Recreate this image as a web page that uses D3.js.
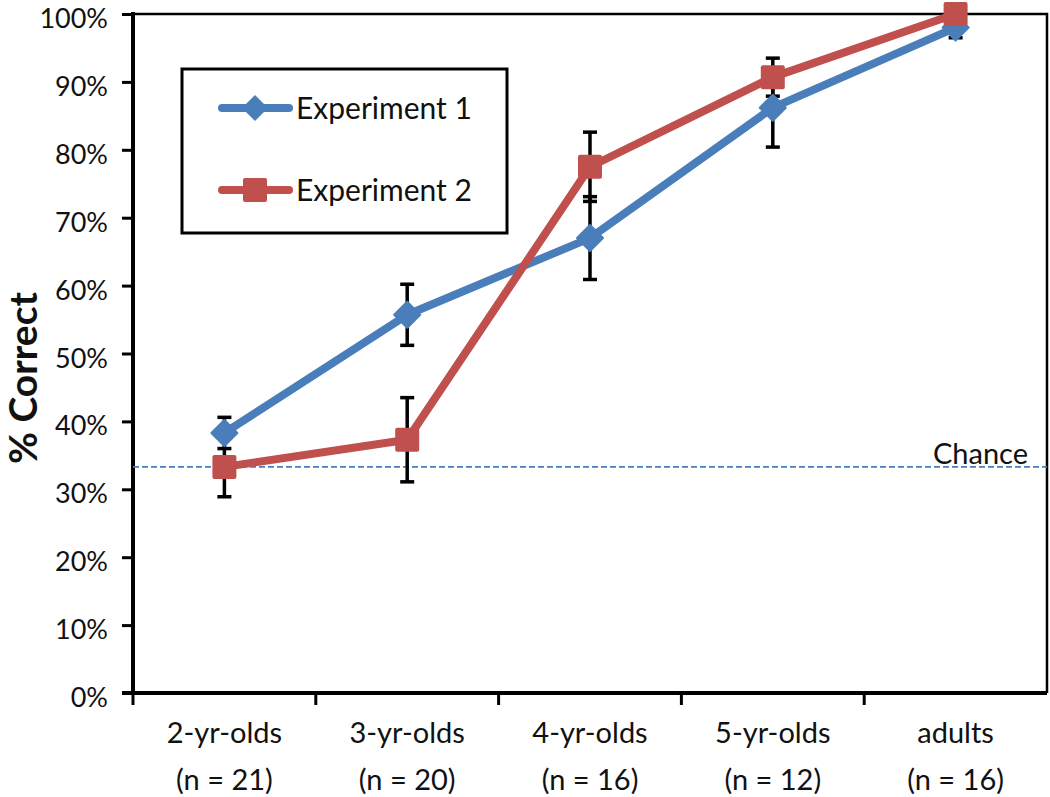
<!DOCTYPE html>
<html><head><meta charset="utf-8">
<script src="https://cdn.jsdelivr.net/npm/d3@7"></script>
<style>body{margin:0;background:#fff}svg{display:block}text{font-family:Lato,"Open Sans",sans-serif;fill:#111}</style>
</head><body><svg id="c" width="1050" height="797"></svg>
<script>
const categories = ["2-yr-olds","3-yr-olds","4-yr-olds","5-yr-olds","adults"];
const nLabels = ["(n = 21)","(n = 20)","(n = 16)","(n = 12)","(n = 16)"];
const exp1 = [38.3, 55.7, 67.0, 86.2, 98.0];
const exp1Err = [2.3, 4.5, 6.1, 5.8, 1.5];
const exp2 = [33.3, 37.3, 77.5, 90.7, 100.0];
const exp2Err = [4.4, 6.2, 5.1, 2.8, 0];
const yTicks = [0,10,20,30,40,50,60,70,80,90,100];
const chance = 33.3;
const seriesNames = ["Experiment 1","Experiment 2"];

const svg = d3.select("#c");
const L=133, R=1047, T=14, B=693;
const x = d3.scaleBand().domain(categories).range([L,R]);
const y = d3.scaleLinear().domain([0,100]).range([B,T]);
const cx = d => x(d)+x.bandwidth()/2;

// frame top/right
svg.append("path").attr("d",`M${L},${T}H${R}V${B}`).attr("fill","none").attr("stroke","#000").attr("stroke-width",2.5);

// y axis
const ya = svg.append("g").attr("transform",`translate(${L},0)`)
  .call(d3.axisLeft(y).tickValues(yTicks).tickFormat(d=>d+"%").tickSize(11).tickPadding(14));
ya.select(".domain").attr("stroke-width",4).attr("d",`M0,${T-2}V${B+2}`);
ya.selectAll(".tick line").attr("stroke-width",3);
ya.selectAll("text").style("font-size","27px").attr("fill","#111").attr("dy","0.5em");

// x axis
const xa = svg.append("g").attr("transform",`translate(0,${B})`)
  .call(d3.axisBottom(x).tickSize(0).tickFormat(""));
xa.select(".domain").attr("stroke-width",4).attr("d",`M${L-11},0H${R}`);
const bounds = categories.map(c=>x(c)).concat([R]);
xa.selectAll(".bt").data(bounds).join("line").attr("class","bt")
  .attr("x1",d=>d).attr("x2",d=>d).attr("y1",0).attr("y2",d=>d===R?0:12)
  .attr("stroke","#000").attr("stroke-width",3);
svg.selectAll(".xl1").data(categories).join("text").attr("class","xl1")
  .attr("x",d=>cx(d)).attr("y",743).attr("text-anchor","middle").style("font-size","29px").text(d=>d);
svg.selectAll(".xl2").data(nLabels).join("text").attr("class","xl2")
  .attr("x",(d,i)=>cx(categories[i])).attr("y",790).attr("text-anchor","middle").style("font-size","29px").text(d=>d);

// y title
svg.append("text").attr("transform",`translate(37,378) rotate(-90)`).attr("text-anchor","middle")
  .style("font-size","39px").style("font-weight","bold").text("% Correct");

// chance line
svg.append("line").attr("x1",L).attr("x2",R).attr("y1",y(chance)).attr("y2",y(chance))
  .attr("stroke","#4a7ebb").attr("stroke-width",1.6).attr("stroke-dasharray","6,3");
svg.append("text").attr("x",1028).attr("y",464).attr("text-anchor","end").style("font-size","29px").text("Chance");

const blue="#4a7ebb", red="#c0504d";
const line = d3.line().x((d,i)=>cx(categories[i])).y(d=>y(d));

function errBars(vals, errs){
  const g = svg.append("g").attr("stroke","#000").attr("stroke-width",3.5);
  vals.forEach((v,i)=>{
    if(!errs[i]) return;
    const X=cx(categories[i]), y1=y(v+errs[i]), y2=y(v-errs[i]);
    g.append("line").attr("x1",X).attr("x2",X).attr("y1",y1).attr("y2",y2);
    g.append("line").attr("x1",X-7).attr("x2",X+7).attr("y1",y1).attr("y2",y1);
    g.append("line").attr("x1",X-7).attr("x2",X+7).attr("y1",y2).attr("y2",y2);
  });
}
errBars(exp1, exp1Err);
errBars(exp2, exp2Err);

svg.append("path").datum(exp1).attr("d",line).attr("fill","none").attr("stroke",blue).attr("stroke-width",8).attr("stroke-linejoin","round");
svg.selectAll(".m1").data(exp1).join("path").attr("class","m1")
  .attr("transform",(d,i)=>`translate(${cx(categories[i])},${y(d)})`)
  .attr("d","M0,-13L13,0L0,13L-13,0Z").attr("fill",blue).attr("stroke",blue).attr("stroke-width",2).attr("stroke-linejoin","round");

svg.append("path").datum(exp2).attr("d",line).attr("fill","none").attr("stroke",red).attr("stroke-width",8).attr("stroke-linejoin","round");
svg.selectAll(".m2").data(exp2).join("rect").attr("class","m2")
  .attr("x",(d,i)=>cx(categories[i])-12).attr("y",d=>y(d)-12).attr("width",24).attr("height",24).attr("rx",2)
  .attr("fill",red);

// legend
svg.append("rect").attr("x",182).attr("y",69).attr("width",325).attr("height",164).attr("fill","#fff").attr("stroke","#000").attr("stroke-width",3);
const lg=[{c:blue,y:108,t:"d"},{c:red,y:190,t:"s"}];
lg.forEach((l,i)=>{
  svg.append("line").attr("x1",222).attr("x2",289).attr("y1",l.y).attr("y2",l.y).attr("stroke",l.c).attr("stroke-width",8).attr("stroke-linecap","round");
  if(l.t==="d") svg.append("path").attr("transform",`translate(255,${l.y})`).attr("d","M0,-13L13,0L0,13L-13,0Z").attr("fill",l.c);
  else svg.append("rect").attr("x",243).attr("y",l.y-12).attr("width",24).attr("height",24).attr("rx",2).attr("fill",l.c);
  svg.append("text").attr("x",296).attr("y",l.y+11).style("font-size","30px").text(seriesNames[i]);
});
</script></body></html>
